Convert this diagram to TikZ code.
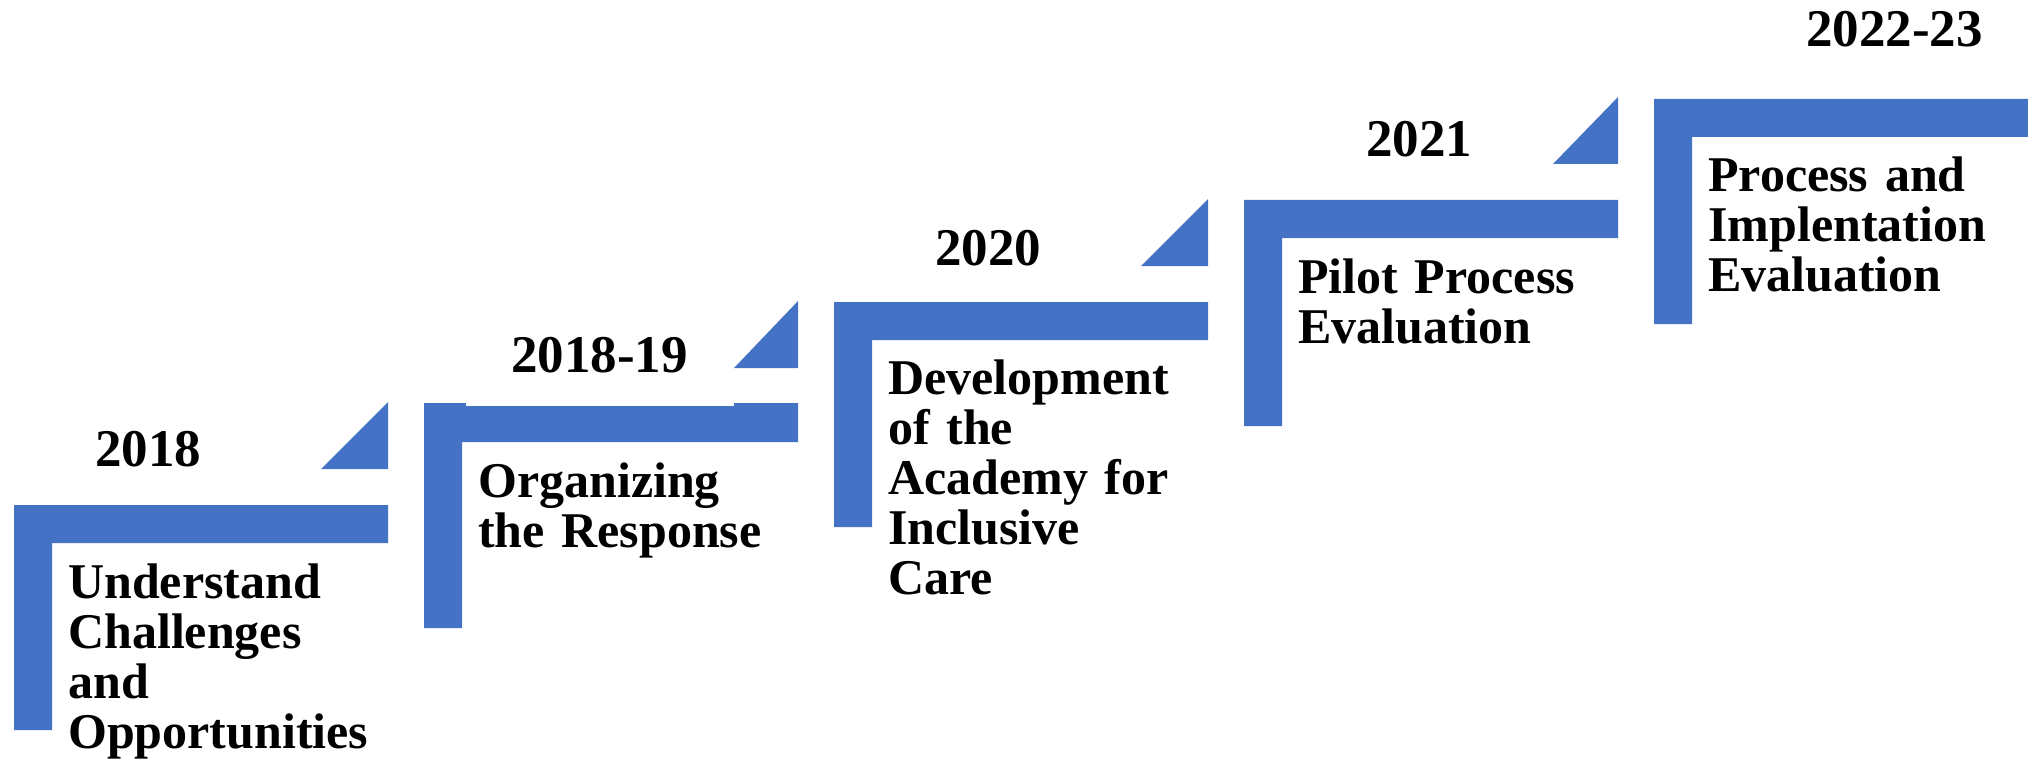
\documentclass[tikz,border=0pt]{standalone}
\usepackage{fontspec}
\setmainfont{Liberation Serif}
\definecolor{stepblue}{HTML}{4472C4}
\tikzset{
  stair/.style={fill=stepblue, draw=none},
  yearlbl/.style={anchor=base west, inner sep=0pt, font={\fontsize{53}{53}\selectfont\bfseries}},
  desclbl/.style={anchor=base west, inner sep=0pt, text width=420pt, align=left, font={\fontsize{50}{50}\selectfont\bfseries}}
}
\begin{document}
\begin{tikzpicture}[x=1pt,y=-1pt]
\useasboundingbox (0,0) rectangle (2028,762);
% L-shaped steps
\fill[stair] (14,505) -- (388,505) -- (388,543) -- (52,543) -- (52,730) -- (14,730) -- cycle;
\fill[stair] (424,403) -- (798,403) -- (798,442) -- (462,442) -- (462,628) -- (424,628) -- cycle;
\fill[white] (466,402) rectangle (734,406);
\fill[stair] (834,302) -- (1208,302) -- (1208,340) -- (872,340) -- (872,527) -- (834,527) -- cycle;
\fill[stair] (1244,200) -- (1618,200) -- (1618,238) -- (1282,238) -- (1282,426) -- (1244,426) -- cycle;
\fill[stair] (1654,99) -- (2028,99) -- (2028,137) -- (1692,137) -- (1692,324) -- (1654,324) -- cycle;
% triangles
\fill[stair] (321,469) -- (388,469) -- (388,402) -- cycle;
\fill[stair] (734,368) -- (798,368) -- (798,301) -- cycle;
\fill[stair] (1141,266) -- (1208,266) -- (1208,199) -- cycle;
\fill[stair] (1553,164) -- (1618,164) -- (1618,97) -- cycle;
% years
\node[yearlbl] (y1) at (95,466) {2018};
\node[yearlbl] (y2) at (511,372) {2018-19};
\node[yearlbl] (y3) at (935,265) {2020};
\node[yearlbl] (y4) at (1366,157) {2021};
\node[yearlbl] (y5) at (1806,47) {2022-23};
% descriptions
\node[desclbl] (d1) at (68,598) {Understand\\Challenges\\and\\Opportunities};
\node[desclbl] (d2) at (478,497) {Organizing\\the Response};
\node[desclbl] (d3) at (888,394) {Development\\of the\\Academy for\\Inclusive\\Care};
\node[desclbl] (d4) at (1298,293) {Pilot Process\\Evaluation};
\node[desclbl] (d5) at (1708,192) {Process and\\Implentation\\Evaluation};
\end{tikzpicture}
\end{document}
